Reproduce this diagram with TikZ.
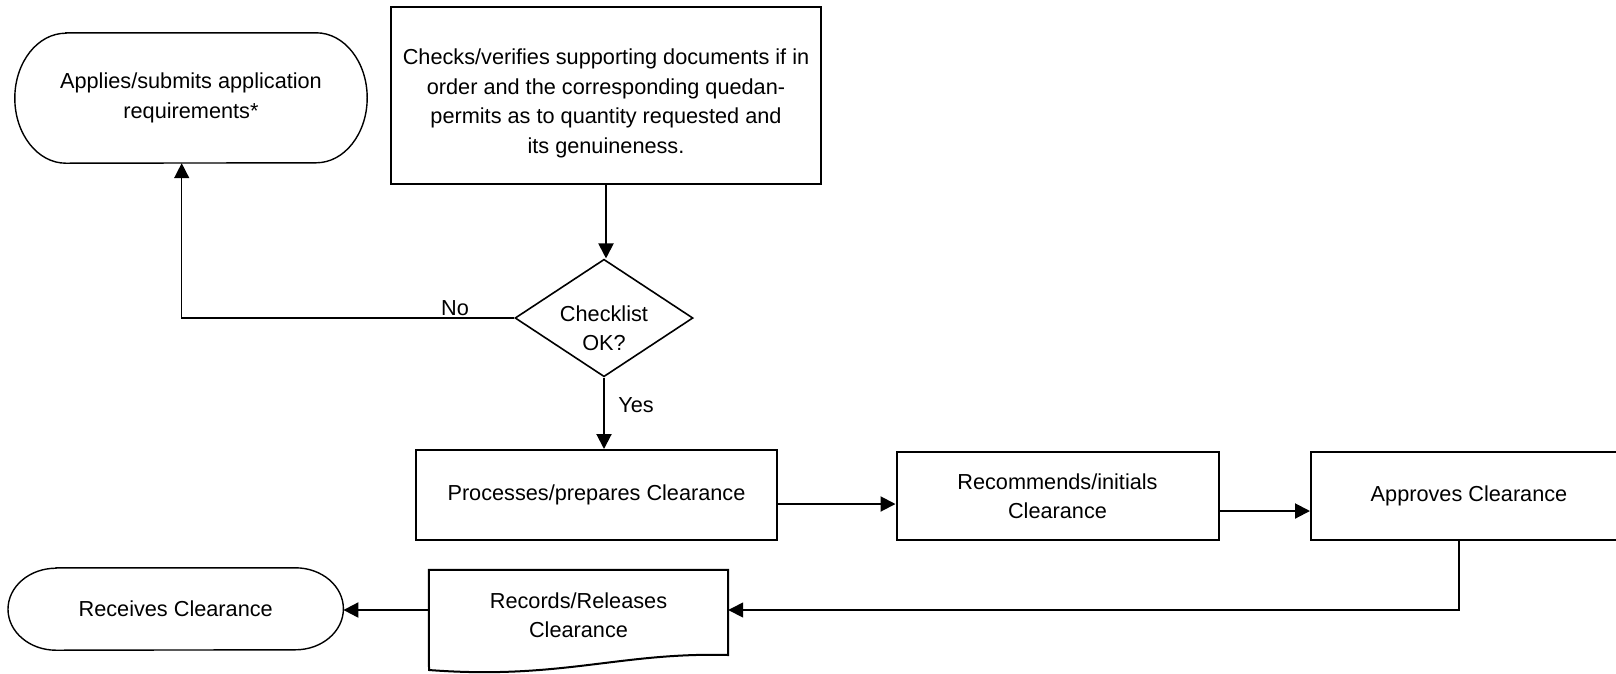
\documentclass[tikz,border=0pt]{standalone}
\usepackage{fontspec}
\setmainfont{Liberation Sans}
\usetikzlibrary{arrows.meta,shapes.geometric}
\begin{document}
\begin{tikzpicture}[x=1pt,y=-1pt,
  txt/.style={font=\fontsize{21.7pt}{29.5pt}\selectfont, align=center, inner sep=0pt},
  boxnode/.style={txt, draw, line width=2pt, rectangle},
  shapeline/.style={line width=1.6pt},
  arr/.style={line width=2pt, -{Triangle[length=15pt,width=15pt]}},
  thinarr/.style={line width=1.5pt, -{Triangle[length=15pt,width=15pt]}},
  thinline/.style={line width=1.4pt}]
\useasboundingbox (0,0) rectangle (1616,673);
\clip (0,0) rectangle (1616,673);

% Terminal: Applies
\node[txt, minimum width=352pt, minimum height=130pt] (app) at (191,98) {Applies/submits application\\requirements*};
\draw[thinline] ([xshift=51pt]app.north west) -- ([xshift=-51pt]app.north east)
  arc[start angle=90,end angle=-90,x radius=51pt,y radius=65pt]
  -- ([xshift=51pt]app.south west)
  arc[start angle=270,end angle=90,x radius=51pt,y radius=65pt] -- cycle;

% Checks box
\node[boxnode, minimum width=430pt, minimum height=177.5pt] (chk) at (606,95.5) {};
\node[txt] (chkt) at (606,103.5) {Checks/verifies supporting documents if in\\order and the corresponding quedan-\\permits as to quantity requested and\\its genuineness.};

% Decision
\node[draw, diamond, shapeline, minimum width=178pt, minimum height=117.5pt, inner sep=0pt] (dia) at (604,318) {};
\node[txt] (diat) at (604,328) {Checklist\\OK?};

% Process boxes
\node[boxnode, minimum width=361pt, minimum height=90pt] (proc) at (596.5,495) {Processes/prepares Clearance};
\node[boxnode, minimum width=322pt, minimum height=88pt] (rec) at (1057.5,496) {Recommends/initials\\Clearance};
\node[boxnode, minimum width=316pt, minimum height=88pt] (appr) at (1469,496) {Approves Clearance};

% Document: Records
\node[txt, minimum width=299pt, minimum height=90pt] (rcd) at (578.5,615) {Records/Releases\\Clearance};
\coordinate (rse) at (728,655);
\coordinate (rsw) at (429,670);
\draw[line width=2pt] (rcd.north west) -- (rcd.north east) -- (rse)
  .. controls (620,652) and (560,680) .. (rsw) -- cycle;

% Terminal: Receives
\node[txt, minimum width=335pt, minimum height=82pt] (rcv) at (175.7,609) {Receives Clearance};
\draw[thinline] ([xshift=48pt]rcv.north west) -- ([xshift=-48pt]rcv.north east)
  arc[start angle=90,end angle=-90,x radius=48pt,y radius=41pt]
  -- ([xshift=48pt]rcv.south west)
  arc[start angle=270,end angle=90,x radius=48pt,y radius=41pt] -- cycle;

% Labels
\node[txt] (no) at (455,308) {No};
\node[txt] (yes) at (636,405) {Yes};

% Connectors
\draw[arr] (chk.south) -- (chk.south |- dia.north);
\draw[thinarr] (dia.west) -| ([xshift=-9.3pt]app.south);
\draw[arr] (dia.south) -- (dia.south |- proc.north);
\coordinate (p1) at ([yshift=-9pt]proc.east);
\draw[arr] (p1) -- (p1 -| rec.west);
\coordinate (p2) at ([yshift=-15pt]rec.east);
\draw[arr] (p2) -- (p2 -| appr.west);
\coordinate (ad) at (1459,610);
\draw[thinarr] (ad |- appr.south) -- (ad) -- (ad -| rcd.east);
\draw[arr] (ad -| rcd.west) -- (ad -| rcv.east);
\end{tikzpicture}
\end{document}
